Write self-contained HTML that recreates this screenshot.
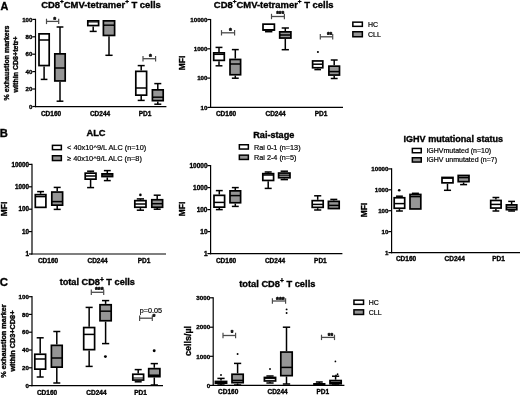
<!DOCTYPE html>
<html><head><meta charset="utf-8"><title>Figure</title>
<style>
html,body{margin:0;padding:0;background:#fff;}
body{width:520px;height:395px;overflow:hidden;}
svg{display:block;font-family:'Liberation Sans', Arial, sans-serif;}
text{fill:#000;}
</style></head><body>
<svg width="520" height="395" viewBox="0 0 520 395" style="font-family:'Liberation Sans', Arial, sans-serif">
<rect width="520" height="395" fill="#fff"/>
<g filter="url(#soft)">
<text x="0.4" y="9.8" font-size="10.8" font-weight="bold" stroke="#000" stroke-width="0.35" text-anchor="start">A</text>
<text x="-0.2" y="137.2" font-size="11.2" font-weight="bold" stroke="#000" stroke-width="0.35" text-anchor="start">B</text>
<text x="-0.2" y="285.7" font-size="11.4" font-weight="bold" stroke="#000" stroke-width="0.35" text-anchor="start">C</text>
<text x="101" y="7.8" font-size="9.45" font-weight="bold" stroke="#000" stroke-width="0.35" text-anchor="middle">CD8<tspan dy="-3.7" font-size="6.4">+</tspan><tspan dy="3.7">CMV-tetramer</tspan><tspan dy="-3.7" font-size="6.4">+</tspan><tspan dy="3.7"> T cells</tspan></text>
<line x1="35.5" y1="18.8" x2="35.5" y2="107.2" stroke="#000" stroke-width="1.2"/>
<line x1="34.9" y1="106.6" x2="166.4" y2="106.6" stroke="#000" stroke-width="1.2"/>
<line x1="32.3" y1="19.4" x2="35.5" y2="19.4" stroke="#000" stroke-width="1.2"/>
<text x="32.4" y="21.6" font-size="6.1" font-weight="bold" stroke="#000" stroke-width="0.35" text-anchor="end">100</text>
<line x1="32.3" y1="36.8" x2="35.5" y2="36.8" stroke="#000" stroke-width="1.2"/>
<text x="32.4" y="39" font-size="6.1" font-weight="bold" stroke="#000" stroke-width="0.35" text-anchor="end">80</text>
<line x1="32.3" y1="54.2" x2="35.5" y2="54.2" stroke="#000" stroke-width="1.2"/>
<text x="32.4" y="56.4" font-size="6.1" font-weight="bold" stroke="#000" stroke-width="0.35" text-anchor="end">60</text>
<line x1="32.3" y1="71.6" x2="35.5" y2="71.6" stroke="#000" stroke-width="1.2"/>
<text x="32.4" y="73.8" font-size="6.1" font-weight="bold" stroke="#000" stroke-width="0.35" text-anchor="end">40</text>
<line x1="32.3" y1="89" x2="35.5" y2="89" stroke="#000" stroke-width="1.2"/>
<text x="32.4" y="91.2" font-size="6.1" font-weight="bold" stroke="#000" stroke-width="0.35" text-anchor="end">20</text>
<line x1="32.3" y1="106.5" x2="35.5" y2="106.5" stroke="#000" stroke-width="1.2"/>
<text x="32.4" y="108.7" font-size="6.1" font-weight="bold" stroke="#000" stroke-width="0.35" text-anchor="end">0</text>
<text x="9" y="63" font-size="7.05" font-weight="bold" stroke="#000" stroke-width="0.35" text-anchor="middle" transform="rotate(-90 9 63)">% exhaustion markers</text>
<text x="17.6" y="64.4" font-size="7.05" font-weight="bold" stroke="#000" stroke-width="0.35" text-anchor="middle" transform="rotate(-90 17.6 64.4)">within CD8+tetr+</text>
<line x1="44.1" y1="66.4" x2="44.1" y2="79.4" stroke="#000" stroke-width="1.5"/>
<line x1="40.77" y1="79.4" x2="47.43" y2="79.4" stroke="#000" stroke-width="1.5"/>
<rect x="39" y="33.85" width="10.2" height="31.7" fill="#fff" stroke="#000" stroke-width="1.7"/>
<line x1="39" y1="40" x2="49.2" y2="40" stroke="#000" stroke-width="1.5"/>
<line x1="60" y1="27" x2="60" y2="53" stroke="#000" stroke-width="1.5"/>
<line x1="56.61" y1="27" x2="63.39" y2="27" stroke="#000" stroke-width="1.5"/>
<line x1="60" y1="81.8" x2="60" y2="101.2" stroke="#000" stroke-width="1.5"/>
<line x1="56.61" y1="101.2" x2="63.39" y2="101.2" stroke="#000" stroke-width="1.5"/>
<rect x="54.8" y="53.85" width="10.4" height="27.1" fill="#959595" stroke="#000" stroke-width="1.7"/>
<line x1="54.8" y1="68" x2="65.2" y2="68" stroke="#000" stroke-width="1.5"/>
<line x1="93.2" y1="26.4" x2="93.2" y2="31.4" stroke="#000" stroke-width="1.5"/>
<line x1="89.7" y1="31.4" x2="96.7" y2="31.4" stroke="#000" stroke-width="1.5"/>
<rect x="87.8" y="20.85" width="10.8" height="4.7" fill="#fff" stroke="#000" stroke-width="1.7"/>
<line x1="87.8" y1="22" x2="98.6" y2="22" stroke="#000" stroke-width="1.0"/>
<line x1="109" y1="36.3" x2="109" y2="55.3" stroke="#000" stroke-width="1.5"/>
<line x1="105.39" y1="55.3" x2="112.61" y2="55.3" stroke="#000" stroke-width="1.5"/>
<rect x="103.4" y="20.85" width="11.2" height="14.6" fill="#959595" stroke="#000" stroke-width="1.7"/>
<line x1="103.4" y1="25.2" x2="114.6" y2="25.2" stroke="#000" stroke-width="1.5"/>
<line x1="141.2" y1="65.6" x2="141.2" y2="70.5" stroke="#000" stroke-width="1.5"/>
<line x1="137.7" y1="65.6" x2="144.7" y2="65.6" stroke="#000" stroke-width="1.5"/>
<line x1="141.2" y1="96" x2="141.2" y2="100.4" stroke="#000" stroke-width="1.5"/>
<line x1="137.7" y1="100.4" x2="144.7" y2="100.4" stroke="#000" stroke-width="1.5"/>
<rect x="135.8" y="71.35" width="10.8" height="23.8" fill="#fff" stroke="#000" stroke-width="1.7"/>
<line x1="135.8" y1="88" x2="146.6" y2="88" stroke="#000" stroke-width="1.5"/>
<line x1="157.8" y1="83.6" x2="157.8" y2="89" stroke="#000" stroke-width="1.5"/>
<line x1="154.3" y1="83.6" x2="161.3" y2="83.6" stroke="#000" stroke-width="1.5"/>
<line x1="157.8" y1="101.5" x2="157.8" y2="104.2" stroke="#000" stroke-width="1.5"/>
<line x1="154.3" y1="104.2" x2="161.3" y2="104.2" stroke="#000" stroke-width="1.5"/>
<rect x="152.4" y="89.85" width="10.8" height="10.8" fill="#959595" stroke="#000" stroke-width="1.7"/>
<line x1="152.4" y1="97.2" x2="163.2" y2="97.2" stroke="#000" stroke-width="1.5"/>
<line x1="46.5" y1="21.4" x2="58.7" y2="21.4" stroke="#4c4c4c" stroke-width="1.3"/>
<line x1="46.5" y1="18.7" x2="46.5" y2="24.1" stroke="#4c4c4c" stroke-width="1.2"/>
<line x1="58.7" y1="18.7" x2="58.7" y2="24.1" stroke="#4c4c4c" stroke-width="1.2"/>
<text x="54.6" y="21.73" font-size="7.4" font-weight="bold" text-anchor="middle" fill="#111" stroke="#111" stroke-width="0.55" stroke-linejoin="round">*</text>
<line x1="143" y1="58.7" x2="155.6" y2="58.7" stroke="#4c4c4c" stroke-width="1.3"/>
<line x1="143" y1="56" x2="143" y2="61.4" stroke="#4c4c4c" stroke-width="1.2"/>
<line x1="155.6" y1="56" x2="155.6" y2="61.4" stroke="#4c4c4c" stroke-width="1.2"/>
<text x="150.4" y="58.73" font-size="7.4" font-weight="bold" text-anchor="middle" fill="#111" stroke="#111" stroke-width="0.55" stroke-linejoin="round">*</text>
<text x="51" y="116" font-size="6.5" font-weight="bold" stroke="#000" stroke-width="0.35" text-anchor="middle">CD160</text>
<text x="100" y="116" font-size="6.5" font-weight="bold" stroke="#000" stroke-width="0.35" text-anchor="middle">CD244</text>
<text x="145" y="116" font-size="6.5" font-weight="bold" stroke="#000" stroke-width="0.35" text-anchor="middle">PD1</text>
<text x="273.7" y="7.8" font-size="9.45" font-weight="bold" stroke="#000" stroke-width="0.35" text-anchor="middle">CD8<tspan dy="-3.7" font-size="6.4">+</tspan><tspan dy="3.7">CMV-tetramer</tspan><tspan dy="-3.7" font-size="6.4">+</tspan><tspan dy="3.7"> T cells</tspan></text>
<line x1="210.6" y1="18.9" x2="210.6" y2="108" stroke="#000" stroke-width="1.2"/>
<line x1="210" y1="107.4" x2="343" y2="107.4" stroke="#000" stroke-width="1.2"/>
<line x1="207.4" y1="19.5" x2="210.6" y2="19.5" stroke="#000" stroke-width="1.2"/>
<text x="207.5" y="21.73" font-size="6.2" font-weight="bold" stroke="#000" stroke-width="0.35" text-anchor="end">10000</text>
<line x1="207.4" y1="48.8" x2="210.6" y2="48.8" stroke="#000" stroke-width="1.2"/>
<text x="207.5" y="51.03" font-size="6.2" font-weight="bold" stroke="#000" stroke-width="0.35" text-anchor="end">1000</text>
<line x1="207.4" y1="78.1" x2="210.6" y2="78.1" stroke="#000" stroke-width="1.2"/>
<text x="207.5" y="80.33" font-size="6.2" font-weight="bold" stroke="#000" stroke-width="0.35" text-anchor="end">100</text>
<line x1="207.4" y1="107.4" x2="210.6" y2="107.4" stroke="#000" stroke-width="1.2"/>
<text x="207.5" y="109.63" font-size="6.2" font-weight="bold" stroke="#000" stroke-width="0.35" text-anchor="end">10</text>
<text x="185.4" y="63" font-size="8.4" font-weight="bold" stroke="#000" stroke-width="0.35" text-anchor="middle" transform="rotate(-90 185.4 63)">MFI</text>
<line x1="219" y1="47.4" x2="219" y2="52" stroke="#000" stroke-width="1.5"/>
<line x1="215.56" y1="47.4" x2="222.44" y2="47.4" stroke="#000" stroke-width="1.5"/>
<line x1="219" y1="61.2" x2="219" y2="65.8" stroke="#000" stroke-width="1.5"/>
<line x1="215.56" y1="65.8" x2="222.44" y2="65.8" stroke="#000" stroke-width="1.5"/>
<rect x="213.7" y="52.85" width="10.6" height="7.5" fill="#fff" stroke="#000" stroke-width="1.7"/>
<line x1="213.7" y1="54.3" x2="224.3" y2="54.3" stroke="#000" stroke-width="1.5"/>
<line x1="235.3" y1="49.6" x2="235.3" y2="58.6" stroke="#000" stroke-width="1.5"/>
<line x1="231.86" y1="49.6" x2="238.74" y2="49.6" stroke="#000" stroke-width="1.5"/>
<line x1="235.3" y1="75.6" x2="235.3" y2="78.2" stroke="#000" stroke-width="1.5"/>
<line x1="231.86" y1="78.2" x2="238.74" y2="78.2" stroke="#000" stroke-width="1.5"/>
<rect x="230" y="59.45" width="10.6" height="15.3" fill="#959595" stroke="#000" stroke-width="1.7"/>
<line x1="230" y1="64" x2="240.6" y2="64" stroke="#000" stroke-width="1.5"/>
<line x1="268.7" y1="30.9" x2="268.7" y2="31.7" stroke="#000" stroke-width="1.5"/>
<line x1="265.03" y1="31.7" x2="272.37" y2="31.7" stroke="#000" stroke-width="1.5"/>
<rect x="263" y="24.15" width="11.4" height="5.9" fill="#fff" stroke="#000" stroke-width="1.7"/>
<line x1="263" y1="29.8" x2="274.4" y2="29.8" stroke="#000" stroke-width="1.5"/>
<line x1="285.3" y1="28" x2="285.3" y2="31" stroke="#000" stroke-width="1.5"/>
<line x1="281.69" y1="28" x2="288.91" y2="28" stroke="#000" stroke-width="1.5"/>
<line x1="285.3" y1="38.9" x2="285.3" y2="49.7" stroke="#000" stroke-width="1.5"/>
<line x1="281.69" y1="49.7" x2="288.91" y2="49.7" stroke="#000" stroke-width="1.5"/>
<rect x="279.7" y="31.85" width="11.2" height="6.2" fill="#959595" stroke="#000" stroke-width="1.7"/>
<line x1="279.7" y1="35" x2="290.9" y2="35" stroke="#000" stroke-width="1.5"/>
<line x1="317.7" y1="68.6" x2="317.7" y2="69.6" stroke="#000" stroke-width="1.5"/>
<line x1="314.37" y1="69.6" x2="321.03" y2="69.6" stroke="#000" stroke-width="1.5"/>
<rect x="312.6" y="60.95" width="10.2" height="6.8" fill="#fff" stroke="#000" stroke-width="1.7"/>
<line x1="312.6" y1="64.2" x2="322.8" y2="64.2" stroke="#000" stroke-width="1.5"/>
<circle cx="317.9" cy="52" r="1.05" fill="#000"/>
<line x1="334.2" y1="60" x2="334.2" y2="65.3" stroke="#000" stroke-width="1.5"/>
<line x1="330.76" y1="60" x2="337.64" y2="60" stroke="#000" stroke-width="1.5"/>
<line x1="334.2" y1="75.9" x2="334.2" y2="78.5" stroke="#000" stroke-width="1.5"/>
<line x1="330.76" y1="78.5" x2="337.64" y2="78.5" stroke="#000" stroke-width="1.5"/>
<rect x="328.9" y="66.15" width="10.6" height="8.9" fill="#959595" stroke="#000" stroke-width="1.7"/>
<line x1="328.9" y1="71.6" x2="339.5" y2="71.6" stroke="#000" stroke-width="1.5"/>
<line x1="221.5" y1="32.8" x2="234.6" y2="32.8" stroke="#4c4c4c" stroke-width="1.3"/>
<line x1="221.5" y1="30.1" x2="221.5" y2="35.5" stroke="#4c4c4c" stroke-width="1.2"/>
<line x1="234.6" y1="30.1" x2="234.6" y2="35.5" stroke="#4c4c4c" stroke-width="1.2"/>
<text x="230.5" y="32.53" font-size="7.4" font-weight="bold" text-anchor="middle" fill="#111" stroke="#111" stroke-width="0.55" stroke-linejoin="round">*</text>
<line x1="271.5" y1="16.5" x2="284.4" y2="16.5" stroke="#4c4c4c" stroke-width="1.3"/>
<line x1="271.5" y1="13.8" x2="271.5" y2="19.2" stroke="#4c4c4c" stroke-width="1.2"/>
<line x1="284.4" y1="13.8" x2="284.4" y2="19.2" stroke="#4c4c4c" stroke-width="1.2"/>
<text x="280.2" y="15.69" font-size="6.8" font-weight="bold" text-anchor="middle" fill="#111" stroke="#111" stroke-width="0.55" stroke-linejoin="round">***</text>
<line x1="320.3" y1="36.8" x2="332.7" y2="36.8" stroke="#4c4c4c" stroke-width="1.3"/>
<line x1="320.3" y1="34.1" x2="320.3" y2="39.5" stroke="#4c4c4c" stroke-width="1.2"/>
<line x1="332.7" y1="34.1" x2="332.7" y2="39.5" stroke="#4c4c4c" stroke-width="1.2"/>
<text x="329.6" y="37.49" font-size="6.8" font-weight="bold" text-anchor="middle" fill="#111" stroke="#111" stroke-width="0.55" stroke-linejoin="round">**</text>
<text x="226" y="116.4" font-size="6.5" font-weight="bold" stroke="#000" stroke-width="0.35" text-anchor="middle">CD160</text>
<text x="275.6" y="116.4" font-size="6.5" font-weight="bold" stroke="#000" stroke-width="0.35" text-anchor="middle">CD244</text>
<text x="321" y="116.4" font-size="6.5" font-weight="bold" stroke="#000" stroke-width="0.35" text-anchor="middle">PD1</text>
<rect x="352.85" y="22.15" width="9.5" height="4.2" fill="#fff" stroke="#000" stroke-width="1.5"/>
<text x="368.1" y="26.75" font-size="6.95" stroke="#000" stroke-width="0.2" text-anchor="start">HC</text>
<rect x="352.85" y="31.75" width="9.5" height="5" fill="#959595" stroke="#000" stroke-width="1.5"/>
<text x="368.1" y="36.75" font-size="6.95" stroke="#000" stroke-width="0.2" text-anchor="start">CLL</text>
<text x="96" y="136.3" font-size="9.3" font-weight="bold" stroke="#000" stroke-width="0.35" text-anchor="middle">ALC</text>
<rect x="52.45" y="145.35" width="8.9" height="4.3" fill="#fff" stroke="#000" stroke-width="1.5"/>
<text x="67.1" y="150.15" font-size="7.35" stroke="#000" stroke-width="0.2" text-anchor="start">&lt; 40x10^9/L ALC (n=10)</text>
<rect x="52.45" y="155.75" width="8.9" height="4.8" fill="#959595" stroke="#000" stroke-width="1.5"/>
<text x="67.1" y="160.8" font-size="7.35" stroke="#000" stroke-width="0.2" text-anchor="start">≥ 40x10^9/L ALC (n=8)</text>
<line x1="32" y1="163.8" x2="32" y2="254.6" stroke="#000" stroke-width="1.2"/>
<line x1="31.4" y1="254" x2="166" y2="254" stroke="#000" stroke-width="1.2"/>
<line x1="28.8" y1="164.4" x2="32" y2="164.4" stroke="#000" stroke-width="1.2"/>
<text x="28.9" y="166.67" font-size="6.3" font-weight="bold" stroke="#000" stroke-width="0.35" text-anchor="end">10000</text>
<line x1="28.8" y1="186.8" x2="32" y2="186.8" stroke="#000" stroke-width="1.2"/>
<text x="28.9" y="189.07" font-size="6.3" font-weight="bold" stroke="#000" stroke-width="0.35" text-anchor="end">1000</text>
<line x1="28.8" y1="209.2" x2="32" y2="209.2" stroke="#000" stroke-width="1.2"/>
<text x="28.9" y="211.47" font-size="6.3" font-weight="bold" stroke="#000" stroke-width="0.35" text-anchor="end">100</text>
<line x1="28.8" y1="231.6" x2="32" y2="231.6" stroke="#000" stroke-width="1.2"/>
<text x="28.9" y="233.87" font-size="6.3" font-weight="bold" stroke="#000" stroke-width="0.35" text-anchor="end">10</text>
<line x1="28.8" y1="254" x2="32" y2="254" stroke="#000" stroke-width="1.2"/>
<text x="28.9" y="256.27" font-size="6.3" font-weight="bold" stroke="#000" stroke-width="0.35" text-anchor="end">1</text>
<text x="6.8" y="209" font-size="8.4" font-weight="bold" stroke="#000" stroke-width="0.35" text-anchor="middle" transform="rotate(-90 6.8 209)">MFI</text>
<line x1="40.6" y1="191.6" x2="40.6" y2="193.8" stroke="#000" stroke-width="1.5"/>
<line x1="37.16" y1="191.6" x2="44.04" y2="191.6" stroke="#000" stroke-width="1.5"/>
<rect x="35.3" y="194.65" width="10.6" height="12.7" fill="#fff" stroke="#000" stroke-width="1.7"/>
<line x1="35.3" y1="196.6" x2="45.9" y2="196.6" stroke="#000" stroke-width="1.5"/>
<line x1="57.2" y1="187.4" x2="57.2" y2="191.2" stroke="#000" stroke-width="1.5"/>
<line x1="53.7" y1="187.4" x2="60.7" y2="187.4" stroke="#000" stroke-width="1.5"/>
<line x1="57.2" y1="206" x2="57.2" y2="209.4" stroke="#000" stroke-width="1.5"/>
<line x1="53.7" y1="209.4" x2="60.7" y2="209.4" stroke="#000" stroke-width="1.5"/>
<rect x="51.8" y="192.05" width="10.8" height="13.1" fill="#959595" stroke="#000" stroke-width="1.7"/>
<line x1="51.8" y1="201.6" x2="62.6" y2="201.6" stroke="#000" stroke-width="1.5"/>
<line x1="90.6" y1="171.2" x2="90.6" y2="172.3" stroke="#000" stroke-width="1.5"/>
<line x1="87.1" y1="171.2" x2="94.1" y2="171.2" stroke="#000" stroke-width="1.5"/>
<line x1="90.6" y1="180" x2="90.6" y2="187.6" stroke="#000" stroke-width="1.5"/>
<line x1="87.1" y1="187.6" x2="94.1" y2="187.6" stroke="#000" stroke-width="1.5"/>
<rect x="85.2" y="173.15" width="10.8" height="6" fill="#fff" stroke="#000" stroke-width="1.7"/>
<line x1="85.2" y1="176" x2="96" y2="176" stroke="#000" stroke-width="1.5"/>
<line x1="107.3" y1="170.6" x2="107.3" y2="173" stroke="#000" stroke-width="1.5"/>
<line x1="103.86" y1="170.6" x2="110.74" y2="170.6" stroke="#000" stroke-width="1.5"/>
<line x1="107.3" y1="177.4" x2="107.3" y2="180.6" stroke="#000" stroke-width="1.5"/>
<line x1="103.86" y1="180.6" x2="110.74" y2="180.6" stroke="#000" stroke-width="1.5"/>
<rect x="102" y="173.85" width="10.6" height="2.7" fill="#959595" stroke="#000" stroke-width="1.7"/>
<line x1="102" y1="175" x2="112.6" y2="175" stroke="#000" stroke-width="1.0"/>
<line x1="140.4" y1="198.9" x2="140.4" y2="199.8" stroke="#000" stroke-width="1.5"/>
<line x1="136.79" y1="198.9" x2="144.01" y2="198.9" stroke="#000" stroke-width="1.5"/>
<line x1="140.4" y1="208.1" x2="140.4" y2="210.2" stroke="#000" stroke-width="1.5"/>
<line x1="136.79" y1="210.2" x2="144.01" y2="210.2" stroke="#000" stroke-width="1.5"/>
<rect x="134.8" y="200.65" width="11.2" height="6.6" fill="#fff" stroke="#000" stroke-width="1.7"/>
<line x1="134.8" y1="204" x2="146" y2="204" stroke="#000" stroke-width="1.5"/>
<circle cx="140.4" cy="194.9" r="1.3" fill="#000"/>
<line x1="157.2" y1="195.2" x2="157.2" y2="198.9" stroke="#000" stroke-width="1.5"/>
<line x1="153.7" y1="195.2" x2="160.7" y2="195.2" stroke="#000" stroke-width="1.5"/>
<line x1="157.2" y1="208.1" x2="157.2" y2="209.2" stroke="#000" stroke-width="1.5"/>
<line x1="153.7" y1="209.2" x2="160.7" y2="209.2" stroke="#000" stroke-width="1.5"/>
<rect x="151.8" y="199.75" width="10.8" height="7.5" fill="#959595" stroke="#000" stroke-width="1.7"/>
<line x1="151.8" y1="203.7" x2="162.6" y2="203.7" stroke="#000" stroke-width="1.5"/>
<text x="48" y="263.2" font-size="6.5" font-weight="bold" stroke="#000" stroke-width="0.35" text-anchor="middle">CD160</text>
<text x="97.6" y="263.2" font-size="6.5" font-weight="bold" stroke="#000" stroke-width="0.35" text-anchor="middle">CD244</text>
<text x="144" y="263.2" font-size="6.5" font-weight="bold" stroke="#000" stroke-width="0.35" text-anchor="middle">PD1</text>
<text x="273.8" y="137.8" font-size="9.15" font-weight="bold" stroke="#000" stroke-width="0.35" text-anchor="middle">Rai-stage</text>
<rect x="239.35" y="144.75" width="9" height="4.3" fill="#fff" stroke="#000" stroke-width="1.5"/>
<text x="254" y="149.51" font-size="7.25" stroke="#000" stroke-width="0.2" text-anchor="start">Rai 0-1 (n=13)</text>
<rect x="239.35" y="155.15" width="9" height="4.3" fill="#959595" stroke="#000" stroke-width="1.5"/>
<text x="254" y="159.91" font-size="7.25" stroke="#000" stroke-width="0.2" text-anchor="start">Rai 2-4 (n=5)</text>
<line x1="210.6" y1="165" x2="210.6" y2="254.2" stroke="#000" stroke-width="1.2"/>
<line x1="210" y1="253.6" x2="342.4" y2="253.6" stroke="#000" stroke-width="1.2"/>
<line x1="207.4" y1="165.6" x2="210.6" y2="165.6" stroke="#000" stroke-width="1.2"/>
<text x="207.5" y="167.94" font-size="6.5" font-weight="bold" stroke="#000" stroke-width="0.35" text-anchor="end">10000</text>
<line x1="207.4" y1="187.6" x2="210.6" y2="187.6" stroke="#000" stroke-width="1.2"/>
<text x="207.5" y="189.94" font-size="6.5" font-weight="bold" stroke="#000" stroke-width="0.35" text-anchor="end">1000</text>
<line x1="207.4" y1="209.6" x2="210.6" y2="209.6" stroke="#000" stroke-width="1.2"/>
<text x="207.5" y="211.94" font-size="6.5" font-weight="bold" stroke="#000" stroke-width="0.35" text-anchor="end">100</text>
<line x1="207.4" y1="231.6" x2="210.6" y2="231.6" stroke="#000" stroke-width="1.2"/>
<text x="207.5" y="233.94" font-size="6.5" font-weight="bold" stroke="#000" stroke-width="0.35" text-anchor="end">10</text>
<line x1="207.4" y1="253.6" x2="210.6" y2="253.6" stroke="#000" stroke-width="1.2"/>
<text x="207.5" y="255.94" font-size="6.5" font-weight="bold" stroke="#000" stroke-width="0.35" text-anchor="end">1</text>
<text x="185.4" y="209" font-size="8.4" font-weight="bold" stroke="#000" stroke-width="0.35" text-anchor="middle" transform="rotate(-90 185.4 209)">MFI</text>
<line x1="219.3" y1="190.6" x2="219.3" y2="194.5" stroke="#000" stroke-width="1.5"/>
<line x1="215.86" y1="190.6" x2="222.74" y2="190.6" stroke="#000" stroke-width="1.5"/>
<line x1="219.3" y1="208" x2="219.3" y2="209.6" stroke="#000" stroke-width="1.5"/>
<line x1="215.86" y1="209.6" x2="222.74" y2="209.6" stroke="#000" stroke-width="1.5"/>
<rect x="214" y="195.35" width="10.6" height="11.8" fill="#fff" stroke="#000" stroke-width="1.7"/>
<line x1="214" y1="202.4" x2="224.6" y2="202.4" stroke="#000" stroke-width="1.5"/>
<line x1="235.3" y1="187.6" x2="235.3" y2="190" stroke="#000" stroke-width="1.5"/>
<line x1="231.86" y1="187.6" x2="238.74" y2="187.6" stroke="#000" stroke-width="1.5"/>
<line x1="235.3" y1="203.6" x2="235.3" y2="206.4" stroke="#000" stroke-width="1.5"/>
<line x1="231.86" y1="206.4" x2="238.74" y2="206.4" stroke="#000" stroke-width="1.5"/>
<rect x="230" y="190.85" width="10.6" height="11.9" fill="#959595" stroke="#000" stroke-width="1.7"/>
<line x1="230" y1="195.6" x2="240.6" y2="195.6" stroke="#000" stroke-width="1.5"/>
<line x1="268.2" y1="172" x2="268.2" y2="172.8" stroke="#000" stroke-width="1.5"/>
<line x1="264.7" y1="172" x2="271.7" y2="172" stroke="#000" stroke-width="1.5"/>
<line x1="268.2" y1="181.3" x2="268.2" y2="188.4" stroke="#000" stroke-width="1.5"/>
<line x1="264.7" y1="188.4" x2="271.7" y2="188.4" stroke="#000" stroke-width="1.5"/>
<rect x="262.8" y="173.65" width="10.8" height="6.8" fill="#fff" stroke="#000" stroke-width="1.7"/>
<line x1="262.8" y1="175" x2="273.6" y2="175" stroke="#000" stroke-width="1.5"/>
<line x1="284.3" y1="171.2" x2="284.3" y2="172.2" stroke="#000" stroke-width="1.5"/>
<line x1="280.63" y1="171.2" x2="287.97" y2="171.2" stroke="#000" stroke-width="1.5"/>
<line x1="284.3" y1="178.6" x2="284.3" y2="179.6" stroke="#000" stroke-width="1.5"/>
<line x1="280.63" y1="179.6" x2="287.97" y2="179.6" stroke="#000" stroke-width="1.5"/>
<rect x="278.6" y="173.05" width="11.4" height="4.7" fill="#959595" stroke="#000" stroke-width="1.7"/>
<line x1="278.6" y1="175.2" x2="290" y2="175.2" stroke="#000" stroke-width="1.0"/>
<line x1="317.7" y1="195.8" x2="317.7" y2="199.8" stroke="#000" stroke-width="1.5"/>
<line x1="314.14" y1="195.8" x2="321.26" y2="195.8" stroke="#000" stroke-width="1.5"/>
<line x1="317.7" y1="208.2" x2="317.7" y2="210" stroke="#000" stroke-width="1.5"/>
<line x1="314.14" y1="210" x2="321.26" y2="210" stroke="#000" stroke-width="1.5"/>
<rect x="312.2" y="200.65" width="11" height="6.7" fill="#fff" stroke="#000" stroke-width="1.7"/>
<line x1="312.2" y1="204.4" x2="323.2" y2="204.4" stroke="#000" stroke-width="1.5"/>
<line x1="333.8" y1="199.4" x2="333.8" y2="200.5" stroke="#000" stroke-width="1.5"/>
<line x1="330.3" y1="199.4" x2="337.3" y2="199.4" stroke="#000" stroke-width="1.5"/>
<rect x="328.4" y="201.35" width="10.8" height="7.2" fill="#959595" stroke="#000" stroke-width="1.7"/>
<line x1="328.4" y1="205.4" x2="339.2" y2="205.4" stroke="#000" stroke-width="1.5"/>
<text x="226" y="263" font-size="6.5" font-weight="bold" stroke="#000" stroke-width="0.35" text-anchor="middle">CD160</text>
<text x="275" y="263" font-size="6.5" font-weight="bold" stroke="#000" stroke-width="0.35" text-anchor="middle">CD244</text>
<text x="320.4" y="263" font-size="6.5" font-weight="bold" stroke="#000" stroke-width="0.35" text-anchor="middle">PD1</text>
<text x="453.3" y="142.2" font-size="9.05" font-weight="bold" stroke="#000" stroke-width="0.35" text-anchor="middle">IGHV mutational status</text>
<rect x="412.35" y="148.45" width="8.9" height="4.3" fill="#fff" stroke="#000" stroke-width="1.5"/>
<text x="426.4" y="153.12" font-size="7.0" stroke="#000" stroke-width="0.2" text-anchor="start">IGHVmutated (n=10)</text>
<rect x="412.35" y="157.75" width="8.9" height="4.3" fill="#959595" stroke="#000" stroke-width="1.5"/>
<text x="426.4" y="162.42" font-size="7.0" stroke="#000" stroke-width="0.2" text-anchor="start">IGHV unmutated (n=7)</text>
<line x1="391.6" y1="168.3" x2="391.6" y2="253.2" stroke="#000" stroke-width="1.2"/>
<line x1="391" y1="252.6" x2="520" y2="252.6" stroke="#000" stroke-width="1.2"/>
<line x1="388.4" y1="168.9" x2="391.6" y2="168.9" stroke="#000" stroke-width="1.2"/>
<text x="388.5" y="171.13" font-size="6.2" font-weight="bold" stroke="#000" stroke-width="0.35" text-anchor="end">10000</text>
<line x1="388.4" y1="189.8" x2="391.6" y2="189.8" stroke="#000" stroke-width="1.2"/>
<text x="388.5" y="192.03" font-size="6.2" font-weight="bold" stroke="#000" stroke-width="0.35" text-anchor="end">1000</text>
<line x1="388.4" y1="210.7" x2="391.6" y2="210.7" stroke="#000" stroke-width="1.2"/>
<text x="388.5" y="212.93" font-size="6.2" font-weight="bold" stroke="#000" stroke-width="0.35" text-anchor="end">100</text>
<line x1="388.4" y1="231.6" x2="391.6" y2="231.6" stroke="#000" stroke-width="1.2"/>
<text x="388.5" y="233.83" font-size="6.2" font-weight="bold" stroke="#000" stroke-width="0.35" text-anchor="end">10</text>
<line x1="388.4" y1="252.6" x2="391.6" y2="252.6" stroke="#000" stroke-width="1.2"/>
<text x="388.5" y="254.83" font-size="6.2" font-weight="bold" stroke="#000" stroke-width="0.35" text-anchor="end">1</text>
<text x="366.6" y="210" font-size="8.4" font-weight="bold" stroke="#000" stroke-width="0.35" text-anchor="middle" transform="rotate(-90 366.6 210)">MFI</text>
<line x1="399.45" y1="196.2" x2="399.45" y2="196.9" stroke="#000" stroke-width="1.5"/>
<line x1="396.03" y1="196.2" x2="402.87" y2="196.2" stroke="#000" stroke-width="1.5"/>
<line x1="399.45" y1="209.1" x2="399.45" y2="211" stroke="#000" stroke-width="1.5"/>
<line x1="396.03" y1="211" x2="402.87" y2="211" stroke="#000" stroke-width="1.5"/>
<rect x="394.2" y="197.75" width="10.5" height="10.5" fill="#fff" stroke="#000" stroke-width="1.7"/>
<line x1="394.2" y1="203.6" x2="404.7" y2="203.6" stroke="#000" stroke-width="1.5"/>
<circle cx="399.2" cy="190.2" r="1.3" fill="#000"/>
<line x1="415.4" y1="193.3" x2="415.4" y2="193.6" stroke="#000" stroke-width="1.5"/>
<line x1="411.9" y1="193.3" x2="418.9" y2="193.3" stroke="#000" stroke-width="1.5"/>
<rect x="410" y="194.45" width="10.8" height="14.5" fill="#959595" stroke="#000" stroke-width="1.7"/>
<line x1="410" y1="196.6" x2="420.8" y2="196.6" stroke="#000" stroke-width="1.5"/>
<line x1="447.5" y1="183.7" x2="447.5" y2="190.3" stroke="#000" stroke-width="1.5"/>
<line x1="443.94" y1="190.3" x2="451.06" y2="190.3" stroke="#000" stroke-width="1.5"/>
<rect x="442" y="177.45" width="11" height="5.4" fill="#fff" stroke="#000" stroke-width="1.7"/>
<line x1="442" y1="178.4" x2="453" y2="178.4" stroke="#000" stroke-width="1.0"/>
<line x1="463.6" y1="182.5" x2="463.6" y2="184.6" stroke="#000" stroke-width="1.5"/>
<line x1="460.1" y1="184.6" x2="467.1" y2="184.6" stroke="#000" stroke-width="1.5"/>
<rect x="458.2" y="175.45" width="10.8" height="6.2" fill="#959595" stroke="#000" stroke-width="1.7"/>
<line x1="458.2" y1="177.6" x2="469" y2="177.6" stroke="#000" stroke-width="1.5"/>
<line x1="495.9" y1="197.5" x2="495.9" y2="199.6" stroke="#000" stroke-width="1.5"/>
<line x1="492.51" y1="197.5" x2="499.29" y2="197.5" stroke="#000" stroke-width="1.5"/>
<line x1="495.9" y1="208.9" x2="495.9" y2="211" stroke="#000" stroke-width="1.5"/>
<line x1="492.51" y1="211" x2="499.29" y2="211" stroke="#000" stroke-width="1.5"/>
<rect x="490.7" y="200.45" width="10.4" height="7.6" fill="#fff" stroke="#000" stroke-width="1.7"/>
<line x1="490.7" y1="204.4" x2="501.1" y2="204.4" stroke="#000" stroke-width="1.5"/>
<line x1="511.6" y1="201.4" x2="511.6" y2="204" stroke="#000" stroke-width="1.5"/>
<line x1="508.21" y1="201.4" x2="514.99" y2="201.4" stroke="#000" stroke-width="1.5"/>
<line x1="511.6" y1="210.5" x2="511.6" y2="211" stroke="#000" stroke-width="1.5"/>
<line x1="508.21" y1="211" x2="514.99" y2="211" stroke="#000" stroke-width="1.5"/>
<rect x="506.4" y="204.85" width="10.4" height="4.8" fill="#959595" stroke="#000" stroke-width="1.7"/>
<line x1="506.4" y1="207.4" x2="516.8" y2="207.4" stroke="#000" stroke-width="1.0"/>
<text x="406" y="261.2" font-size="6.5" font-weight="bold" stroke="#000" stroke-width="0.35" text-anchor="middle">CD160</text>
<text x="454.7" y="261.2" font-size="6.5" font-weight="bold" stroke="#000" stroke-width="0.35" text-anchor="middle">CD244</text>
<text x="498.6" y="261.2" font-size="6.5" font-weight="bold" stroke="#000" stroke-width="0.35" text-anchor="middle">PD1</text>
<text x="97.3" y="285.4" font-size="9.2" font-weight="bold" stroke="#000" stroke-width="0.35" text-anchor="middle">total CD8<tspan dy="-3.9" font-size="6.6">+</tspan><tspan dy="3.9"> T cells</tspan></text>
<line x1="32" y1="296.1" x2="32" y2="386.2" stroke="#000" stroke-width="1.2"/>
<line x1="31.4" y1="385.6" x2="163" y2="385.6" stroke="#000" stroke-width="1.2"/>
<line x1="28.8" y1="296.7" x2="32" y2="296.7" stroke="#000" stroke-width="1.2"/>
<text x="28.9" y="298.93" font-size="6.2" font-weight="bold" stroke="#000" stroke-width="0.35" text-anchor="end">100</text>
<line x1="28.8" y1="314.4" x2="32" y2="314.4" stroke="#000" stroke-width="1.2"/>
<text x="28.9" y="316.63" font-size="6.2" font-weight="bold" stroke="#000" stroke-width="0.35" text-anchor="end">80</text>
<line x1="28.8" y1="332.2" x2="32" y2="332.2" stroke="#000" stroke-width="1.2"/>
<text x="28.9" y="334.43" font-size="6.2" font-weight="bold" stroke="#000" stroke-width="0.35" text-anchor="end">60</text>
<line x1="28.8" y1="350" x2="32" y2="350" stroke="#000" stroke-width="1.2"/>
<text x="28.9" y="352.23" font-size="6.2" font-weight="bold" stroke="#000" stroke-width="0.35" text-anchor="end">40</text>
<line x1="28.8" y1="367.8" x2="32" y2="367.8" stroke="#000" stroke-width="1.2"/>
<text x="28.9" y="370.03" font-size="6.2" font-weight="bold" stroke="#000" stroke-width="0.35" text-anchor="end">20</text>
<line x1="28.8" y1="385.6" x2="32" y2="385.6" stroke="#000" stroke-width="1.2"/>
<text x="28.9" y="387.83" font-size="6.2" font-weight="bold" stroke="#000" stroke-width="0.35" text-anchor="end">0</text>
<text x="6" y="341" font-size="7.3" font-weight="bold" stroke="#000" stroke-width="0.35" text-anchor="middle" transform="rotate(-90 6 341)">% exhaustion marker</text>
<text x="14.6" y="341" font-size="7.3" font-weight="bold" stroke="#000" stroke-width="0.35" text-anchor="middle" transform="rotate(-90 14.6 341)">within CD3+CD8+</text>
<line x1="40.2" y1="337.8" x2="40.2" y2="353.4" stroke="#000" stroke-width="1.5"/>
<line x1="36.7" y1="337.8" x2="43.7" y2="337.8" stroke="#000" stroke-width="1.5"/>
<line x1="40.2" y1="370" x2="40.2" y2="377" stroke="#000" stroke-width="1.5"/>
<line x1="36.7" y1="377" x2="43.7" y2="377" stroke="#000" stroke-width="1.5"/>
<rect x="34.8" y="354.25" width="10.8" height="14.9" fill="#fff" stroke="#000" stroke-width="1.7"/>
<line x1="34.8" y1="359" x2="45.6" y2="359" stroke="#000" stroke-width="1.5"/>
<line x1="56.8" y1="331.5" x2="56.8" y2="344.5" stroke="#000" stroke-width="1.5"/>
<line x1="53.3" y1="331.5" x2="60.3" y2="331.5" stroke="#000" stroke-width="1.5"/>
<line x1="56.8" y1="368" x2="56.8" y2="383" stroke="#000" stroke-width="1.5"/>
<line x1="53.3" y1="383" x2="60.3" y2="383" stroke="#000" stroke-width="1.5"/>
<rect x="51.4" y="345.35" width="10.8" height="21.8" fill="#959595" stroke="#000" stroke-width="1.7"/>
<line x1="51.4" y1="358" x2="62.2" y2="358" stroke="#000" stroke-width="1.5"/>
<line x1="89.15" y1="307.4" x2="89.15" y2="326.7" stroke="#000" stroke-width="1.5"/>
<line x1="85.62" y1="307.4" x2="92.68" y2="307.4" stroke="#000" stroke-width="1.5"/>
<line x1="89.15" y1="350.5" x2="89.15" y2="366.4" stroke="#000" stroke-width="1.5"/>
<line x1="85.62" y1="366.4" x2="92.68" y2="366.4" stroke="#000" stroke-width="1.5"/>
<rect x="83.7" y="327.55" width="10.9" height="22.1" fill="#fff" stroke="#000" stroke-width="1.7"/>
<line x1="83.7" y1="334.4" x2="94.6" y2="334.4" stroke="#000" stroke-width="1.5"/>
<line x1="105.6" y1="300.6" x2="105.6" y2="303.9" stroke="#000" stroke-width="1.5"/>
<line x1="101.99" y1="300.6" x2="109.21" y2="300.6" stroke="#000" stroke-width="1.5"/>
<line x1="105.6" y1="321.6" x2="105.6" y2="343.6" stroke="#000" stroke-width="1.5"/>
<line x1="101.99" y1="343.6" x2="109.21" y2="343.6" stroke="#000" stroke-width="1.5"/>
<rect x="100" y="304.75" width="11.2" height="16" fill="#959595" stroke="#000" stroke-width="1.7"/>
<line x1="100" y1="311.2" x2="111.2" y2="311.2" stroke="#000" stroke-width="1.5"/>
<circle cx="105.4" cy="356.6" r="1.45" fill="#000"/>
<line x1="138.2" y1="369.6" x2="138.2" y2="373.4" stroke="#000" stroke-width="1.5"/>
<line x1="134.7" y1="369.6" x2="141.7" y2="369.6" stroke="#000" stroke-width="1.5"/>
<line x1="138.2" y1="380.9" x2="138.2" y2="381.8" stroke="#000" stroke-width="1.5"/>
<line x1="134.7" y1="381.8" x2="141.7" y2="381.8" stroke="#000" stroke-width="1.5"/>
<rect x="132.8" y="374.25" width="10.8" height="5.8" fill="#fff" stroke="#000" stroke-width="1.7"/>
<line x1="132.8" y1="378" x2="143.6" y2="378" stroke="#000" stroke-width="1.0"/>
<line x1="154.3" y1="363.6" x2="154.3" y2="367.8" stroke="#000" stroke-width="1.5"/>
<line x1="150.69" y1="363.6" x2="157.91" y2="363.6" stroke="#000" stroke-width="1.5"/>
<line x1="154.3" y1="377.5" x2="154.3" y2="385" stroke="#000" stroke-width="1.5"/>
<line x1="150.69" y1="385" x2="157.91" y2="385" stroke="#000" stroke-width="1.5"/>
<rect x="148.7" y="368.65" width="11.2" height="8" fill="#959595" stroke="#000" stroke-width="1.7"/>
<line x1="148.7" y1="375.2" x2="159.9" y2="375.2" stroke="#000" stroke-width="1.5"/>
<circle cx="154.2" cy="350.8" r="1.45" fill="#000"/>
<line x1="91.3" y1="292.3" x2="103.7" y2="292.3" stroke="#4c4c4c" stroke-width="1.3"/>
<line x1="91.3" y1="289.6" x2="91.3" y2="295" stroke="#4c4c4c" stroke-width="1.2"/>
<line x1="103.7" y1="289.6" x2="103.7" y2="295" stroke="#4c4c4c" stroke-width="1.2"/>
<text x="99.2" y="292.43" font-size="7.4" font-weight="bold" text-anchor="middle" fill="#111" stroke="#111" stroke-width="0.55" stroke-linejoin="round">***</text>
<line x1="139.6" y1="318.2" x2="152.3" y2="318.2" stroke="#4c4c4c" stroke-width="1.3"/>
<line x1="139.6" y1="315.5" x2="139.6" y2="320.9" stroke="#4c4c4c" stroke-width="1.2"/>
<line x1="152.3" y1="315.5" x2="152.3" y2="320.9" stroke="#4c4c4c" stroke-width="1.2"/>
<text x="153.9" y="319.13" font-size="7.4" font-weight="bold" text-anchor="middle" fill="#111" stroke="#111" stroke-width="0.55" stroke-linejoin="round">*</text>
<text x="150.8" y="313" font-size="7.2" stroke="#000" stroke-width="0.2" text-anchor="middle">p=0.05</text>
<text x="47" y="394.8" font-size="6.5" font-weight="bold" stroke="#000" stroke-width="0.35" text-anchor="middle">CD160</text>
<text x="96.4" y="394.8" font-size="6.5" font-weight="bold" stroke="#000" stroke-width="0.35" text-anchor="middle">CD244</text>
<text x="140.6" y="394.8" font-size="6.5" font-weight="bold" stroke="#000" stroke-width="0.35" text-anchor="middle">PD1</text>
<text x="277.3" y="287.2" font-size="9.3" font-weight="bold" stroke="#000" stroke-width="0.35" text-anchor="middle">total CD8<tspan dy="-3.9" font-size="6.6">+</tspan><tspan dy="3.9"> T cells</tspan></text>
<line x1="213.2" y1="297.2" x2="213.2" y2="386" stroke="#000" stroke-width="1.2"/>
<line x1="212.6" y1="385.4" x2="344.4" y2="385.4" stroke="#000" stroke-width="1.2"/>
<line x1="210" y1="297.8" x2="213.2" y2="297.8" stroke="#000" stroke-width="1.2"/>
<text x="210.1" y="300.03" font-size="6.2" font-weight="bold" stroke="#000" stroke-width="0.35" text-anchor="end">3000</text>
<line x1="210" y1="327.2" x2="213.2" y2="327.2" stroke="#000" stroke-width="1.2"/>
<text x="210.1" y="329.43" font-size="6.2" font-weight="bold" stroke="#000" stroke-width="0.35" text-anchor="end">2000</text>
<line x1="210" y1="356.3" x2="213.2" y2="356.3" stroke="#000" stroke-width="1.2"/>
<text x="210.1" y="358.53" font-size="6.2" font-weight="bold" stroke="#000" stroke-width="0.35" text-anchor="end">1000</text>
<line x1="210" y1="385.4" x2="213.2" y2="385.4" stroke="#000" stroke-width="1.2"/>
<text x="210.1" y="387.63" font-size="6.2" font-weight="bold" stroke="#000" stroke-width="0.35" text-anchor="end">0</text>
<text x="190.6" y="341" font-size="9" font-weight="bold" stroke="#000" stroke-width="0.35" text-anchor="middle" transform="rotate(-90 190.6 341)">cells/µl</text>
<line x1="221" y1="378.4" x2="221" y2="380.6" stroke="#000" stroke-width="1.5"/>
<line x1="217.39" y1="378.4" x2="224.61" y2="378.4" stroke="#000" stroke-width="1.5"/>
<line x1="221" y1="384" x2="221" y2="385" stroke="#000" stroke-width="1.5"/>
<line x1="217.39" y1="385" x2="224.61" y2="385" stroke="#000" stroke-width="1.5"/>
<rect x="215.4" y="381.45" width="11.2" height="1.7" fill="#fff" stroke="#000" stroke-width="1.7"/>
<line x1="215.4" y1="382.5" x2="226.6" y2="382.5" stroke="#000" stroke-width="1.0"/>
<circle cx="221" cy="375" r="0.95" fill="#000"/>
<line x1="237.6" y1="363.4" x2="237.6" y2="373.4" stroke="#000" stroke-width="1.5"/>
<line x1="233.99" y1="363.4" x2="241.21" y2="363.4" stroke="#000" stroke-width="1.5"/>
<line x1="237.6" y1="383.5" x2="237.6" y2="385" stroke="#000" stroke-width="1.5"/>
<line x1="233.99" y1="385" x2="241.21" y2="385" stroke="#000" stroke-width="1.5"/>
<rect x="232" y="374.25" width="11.2" height="8.4" fill="#959595" stroke="#000" stroke-width="1.7"/>
<line x1="232" y1="380.4" x2="243.2" y2="380.4" stroke="#000" stroke-width="1.5"/>
<circle cx="237.6" cy="354" r="0.95" fill="#000"/>
<line x1="270" y1="376" x2="270" y2="376.6" stroke="#000" stroke-width="1.5"/>
<line x1="266.39" y1="376" x2="273.61" y2="376" stroke="#000" stroke-width="1.5"/>
<line x1="270" y1="381.8" x2="270" y2="383" stroke="#000" stroke-width="1.5"/>
<line x1="266.39" y1="383" x2="273.61" y2="383" stroke="#000" stroke-width="1.5"/>
<rect x="264.4" y="377.45" width="11.2" height="3.5" fill="#fff" stroke="#000" stroke-width="1.7"/>
<line x1="264.4" y1="378.6" x2="275.6" y2="378.6" stroke="#000" stroke-width="1.0"/>
<circle cx="270" cy="369" r="0.95" fill="#000"/>
<line x1="286.5" y1="327.2" x2="286.5" y2="351.2" stroke="#000" stroke-width="1.5"/>
<line x1="282.83" y1="327.2" x2="290.17" y2="327.2" stroke="#000" stroke-width="1.5"/>
<line x1="286.5" y1="376.5" x2="286.5" y2="384" stroke="#000" stroke-width="1.5"/>
<line x1="282.83" y1="384" x2="290.17" y2="384" stroke="#000" stroke-width="1.5"/>
<rect x="280.8" y="352.05" width="11.4" height="23.6" fill="#959595" stroke="#000" stroke-width="1.7"/>
<line x1="280.8" y1="367.4" x2="292.2" y2="367.4" stroke="#000" stroke-width="1.5"/>
<circle cx="286.6" cy="309.4" r="0.95" fill="#000"/>
<circle cx="286.6" cy="313" r="0.95" fill="#000"/>
<line x1="319.3" y1="382" x2="319.3" y2="383" stroke="#000" stroke-width="1.5"/>
<line x1="315.86" y1="382" x2="322.74" y2="382" stroke="#000" stroke-width="1.5"/>
<rect x="314" y="383.85" width="10.6" height="0.3" fill="#fff" stroke="#000" stroke-width="1.7"/>
<line x1="314" y1="384" x2="324.6" y2="384" stroke="#000" stroke-width="1.0"/>
<line x1="335.6" y1="376.2" x2="335.6" y2="379.7" stroke="#000" stroke-width="1.5"/>
<line x1="331.99" y1="376.2" x2="339.21" y2="376.2" stroke="#000" stroke-width="1.5"/>
<line x1="335.6" y1="384.6" x2="335.6" y2="385" stroke="#000" stroke-width="1.5"/>
<line x1="331.99" y1="385" x2="339.21" y2="385" stroke="#000" stroke-width="1.5"/>
<rect x="330" y="380.55" width="11.2" height="3.2" fill="#959595" stroke="#000" stroke-width="1.7"/>
<line x1="330" y1="382.5" x2="341.2" y2="382.5" stroke="#000" stroke-width="1.0"/>
<circle cx="335.4" cy="361.4" r="0.85" fill="#000"/>
<circle cx="337.6" cy="374.2" r="0.85" fill="#000"/>
<circle cx="336" cy="375.4" r="0.85" fill="#000"/>
<line x1="223" y1="335.5" x2="235.6" y2="335.5" stroke="#4c4c4c" stroke-width="1.3"/>
<line x1="223" y1="332.8" x2="223" y2="338.2" stroke="#4c4c4c" stroke-width="1.2"/>
<line x1="235.6" y1="332.8" x2="235.6" y2="338.2" stroke="#4c4c4c" stroke-width="1.2"/>
<text x="232" y="334.77" font-size="6.6" font-weight="bold" text-anchor="middle" fill="#111" stroke="#111" stroke-width="0.55" stroke-linejoin="round">*</text>
<line x1="272.4" y1="301" x2="285.6" y2="301" stroke="#4c4c4c" stroke-width="1.3"/>
<line x1="272.4" y1="298.3" x2="272.4" y2="303.7" stroke="#4c4c4c" stroke-width="1.2"/>
<line x1="285.6" y1="298.3" x2="285.6" y2="303.7" stroke="#4c4c4c" stroke-width="1.2"/>
<text x="280.4" y="302.03" font-size="7.4" font-weight="bold" text-anchor="middle" fill="#111" stroke="#111" stroke-width="0.55" stroke-linejoin="round">***</text>
<line x1="321.5" y1="337.4" x2="334.5" y2="337.4" stroke="#4c4c4c" stroke-width="1.3"/>
<line x1="321.5" y1="334.7" x2="321.5" y2="340.1" stroke="#4c4c4c" stroke-width="1.2"/>
<line x1="334.5" y1="334.7" x2="334.5" y2="340.1" stroke="#4c4c4c" stroke-width="1.2"/>
<text x="330.4" y="337.89" font-size="6.8" font-weight="bold" text-anchor="middle" fill="#111" stroke="#111" stroke-width="0.55" stroke-linejoin="round">**</text>
<text x="228.2" y="394.4" font-size="6.5" font-weight="bold" stroke="#000" stroke-width="0.35" text-anchor="middle">CD160</text>
<text x="277.6" y="394.4" font-size="6.5" font-weight="bold" stroke="#000" stroke-width="0.35" text-anchor="middle">CD244</text>
<text x="322.8" y="394.4" font-size="6.5" font-weight="bold" stroke="#000" stroke-width="0.35" text-anchor="middle">PD1</text>
<rect x="353.95" y="300.15" width="9.6" height="4.2" fill="#fff" stroke="#000" stroke-width="1.5"/>
<text x="368.8" y="304.75" font-size="6.95" stroke="#000" stroke-width="0.2" text-anchor="start">HC</text>
<rect x="353.95" y="309.85" width="9.6" height="4.6" fill="#959595" stroke="#000" stroke-width="1.5"/>
<text x="368.8" y="314.65" font-size="6.95" stroke="#000" stroke-width="0.2" text-anchor="start">CLL</text>
</g>
<defs><filter id="soft" x="-2%" y="-2%" width="104%" height="104%"><feGaussianBlur stdDeviation="0.3"/></filter></defs>
</svg>
</body></html>
